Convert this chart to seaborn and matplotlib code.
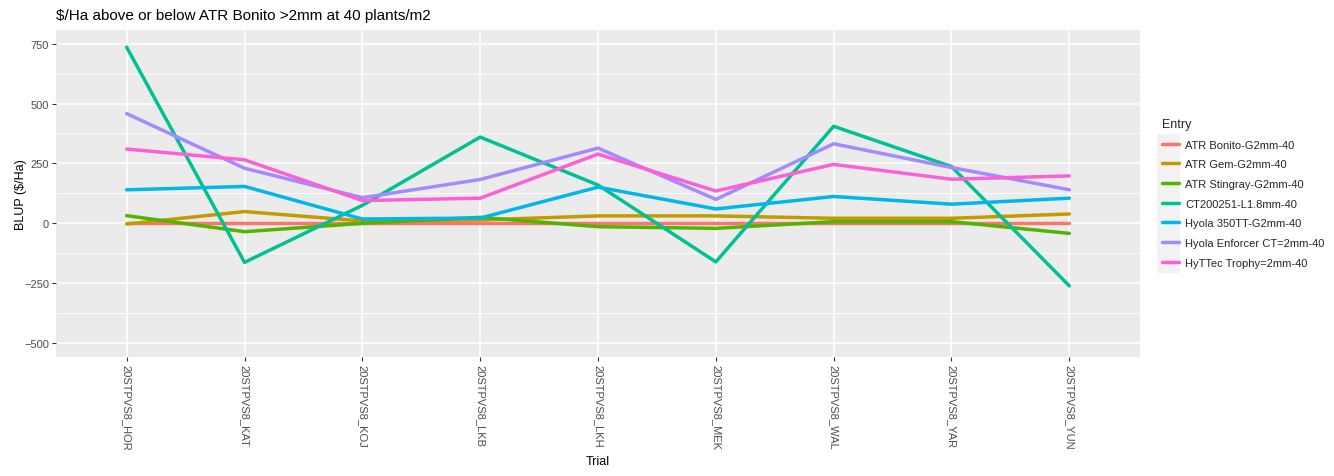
import matplotlib
matplotlib.use("Agg")
import matplotlib.pyplot as plt
import numpy as np
import pandas as pd
import seaborn as sns

trials = ["20STPVS8_HOR", "20STPVS8_KAT", "20STPVS8_KOJ", "20STPVS8_LKB", "20STPVS8_LKH",
          "20STPVS8_MEK", "20STPVS8_WAL", "20STPVS8_YAR", "20STPVS8_YUN"]
entries = ["ATR Bonito-G2mm-40", "ATR Gem-G2mm-40", "ATR Stingray-G2mm-40", "CT200251-L1.8mm-40",
           "Hyola 350TT-G2mm-40", "Hyola Enforcer CT=2mm-40", "HyTTec Trophy=2mm-40"]

bonito = [0, 0, 0, 0, 0, 0, 0, 0, 0]
gem = [-3, 49, 10, 14, 31, 31, 21, 21, 39]
stingray = [32, -35, 0, 25, -14, -21, 7, 7, -42]
ct200251 = [735, -163, 75, 360, 160, -161, 405, 237, -261]
hyola350 = [140, 154, 18, 22, 151, 60, 112, 80, 105]
enforcer = [458, 230, 107, 183, 314, 100, 332, 233, 140]
trophy = [310, 265, 95, 105, 289, 135, 246, 184, 198]

colors = ["#F8766D", "#C49A00", "#53B400", "#00C094", "#00B6EB", "#A58AFF", "#FB61D7"]

series = [bonito, gem, stingray, ct200251, hyola350, enforcer, trophy]
rows = []
for name, vals in zip(entries, series):
    for i, v in enumerate(vals):
        rows.append([name, i, v])
df = pd.DataFrame(rows, columns=["Entry", "idx", "BLUP"])

sns.set_theme(style="darkgrid")
plt.rcParams['font.family'] = ['Liberation Sans', 'DejaVu Sans']

fig = plt.figure(figsize=(13.34, 4.77), dpi=100)
ax = fig.add_axes([56/1334, 1-358/477, (1140-56)/1334, (358-31)/477])
ax.set_facecolor("#EBEBEB")

sns.lineplot(data=df, x="idx", y="BLUP", hue="Entry", hue_order=entries,
             palette=colors, linewidth=2.5, ax=ax, legend=False)

ax.set_xlim(-0.6, 8.6)
ax.set_ylim(-558, 807)
ax.set_xticks(range(len(trials)))
ax.set_xticklabels(trials, rotation=-90, va="top", ha="center")
ax.set_yticks([-500, -250, 0, 250, 500, 750])
ax.set_yticks([-375, -125, 125, 375, 625], minor=True)
ax.grid(True, which="major", color="white", linewidth=1.1)
ax.grid(True, which="minor", axis="y", color="white", linewidth=0.55)
ax.set_axisbelow(True)
for s in ax.spines.values():
    s.set_visible(False)
ax.tick_params(axis="both", which="major", length=3, width=0.8, color="#333333",
               labelsize=8, labelcolor="#4D4D4D", pad=2, left=True, bottom=True)
ax.tick_params(axis="both", which="minor", length=0)

ax.set_xlabel("Trial", fontsize=9, color="black", labelpad=4)
ax.set_ylabel("BLUP (\\$/Ha)", fontsize=9, color="black")
ax.yaxis.set_label_coords(-0.027, 0.5)
ax.set_title("\\$/Ha above or below ATR Bonito >2mm at 40 plants/m2", loc="left",
             fontsize=11, color="black", pad=8)

# grey legend key column like ggplot
fig.patches.append(plt.Rectangle((1157/1334, 1-274/477), 23/1334, 139/477,
                                 transform=fig.transFigure, facecolor="#F2F2F2",
                                 edgecolor="none", zorder=0))

handles = [plt.Line2D([], [], color=c, linewidth=2.5) for c in colors]
leg = fig.legend(handles, entries, title="Entry", loc="upper left",
                 bbox_to_anchor=(1152/1334, 1-109/477), frameon=False,
                 fontsize=8, title_fontsize=9, handlelength=1.5, handletextpad=0.6,
                 labelspacing=0.87)
leg._legend_box.align = "left"

fig.savefig("out.png", dpi=100)
